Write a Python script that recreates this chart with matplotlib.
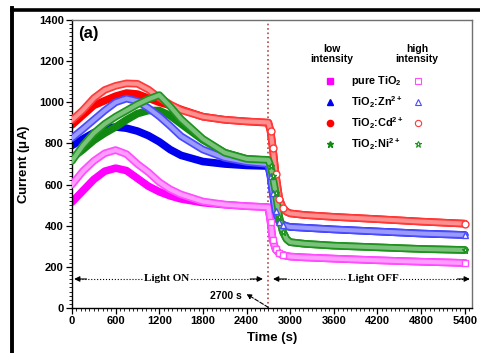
import numpy as np
import matplotlib.pyplot as plt
from matplotlib.lines import Line2D
from matplotlib.ticker import MultipleLocator

plt.rcParams['font.family'] = ['Liberation Sans', 'DejaVu Sans']
plt.rcParams['font.weight'] = 'bold'
plt.rcParams['mathtext.fontset'] = 'custom'
plt.rcParams['mathtext.bf'] = 'Liberation Sans:bold'
plt.rcParams['mathtext.rm'] = 'Liberation Sans:bold'
plt.rcParams['mathtext.default'] = 'bf'

# light ON part (s)
t_on = [0, 150, 300, 450, 600, 750, 900, 1050, 1200, 1350, 1500, 1800, 2100, 2400, 2700]
# light OFF part (s)
t_off = [2700, 2730, 2760, 2800, 2850, 2900, 2950, 3000, 3200, 3600, 4200, 4800, 5400]

pure_low = [515, 570, 625, 665, 680, 668, 630, 592, 565, 545, 530, 512, 502, 495, 490]
pure_high = [600, 665, 715, 752, 768, 748, 700, 660, 612, 577, 552, 518, 503, 495, 490]
zn_low = [790, 822, 852, 872, 880, 874, 860, 838, 808, 770, 742, 712, 700, 693, 690]
zn_high = [826, 870, 915, 960, 1000, 1018, 1005, 972, 932, 885, 835, 770, 730, 710, 700]
cd_low = [890, 938, 985, 1008, 1030, 1045, 1040, 1020, 1000, 985, 965, 930, 915, 907, 900]
cd_high = [914, 962, 1020, 1060, 1080, 1092, 1090, 1062, 1022, 990, 962, 930, 915, 907, 902]
ni_low = [729, 770, 815, 850, 880, 915, 945, 960, 960, 935, 895, 817, 755, 725, 718]
ni_high = [715, 790, 850, 895, 930, 960, 990, 1015, 1035, 980, 918, 822, 755, 725, 720]

pure_off = [490, 420, 330, 285, 265, 258, 253, 250, 246, 240, 232, 225, 219]
zn_off = [700, 640, 560, 470, 420, 405, 398, 394, 390, 382, 372, 362, 355]
cd_off = [900, 860, 780, 650, 530, 485, 468, 460, 452, 443, 432, 420, 410]
ni_off = [720, 690, 640, 560, 440, 370, 335, 320, 312, 303, 295, 287, 282]

labels = ['pure TiO$_2$', 'TiO$_2$:Zn$^{2+}$', 'TiO$_2$:Cd$^{2+}$', 'TiO$_2$:Ni$^{2+}$']

fig = plt.figure(figsize=(4.8, 3.53), dpi=100)
ax = fig.add_axes([0.15, 0.1275, 0.8333, 0.8158])

series = [
    (pure_low, pure_high, pure_off, '#ff00ff', '#ff4dff', '#ff9cff', 's'),
    (zn_low, zn_high, zn_off, '#0000ee', '#4a4aff', '#9a9aff', '^'),
    (cd_low, cd_high, cd_off, '#ff0000', '#ff3838', '#ff9090', 'o'),
    (ni_low, ni_high, ni_off, '#118811', '#1f931f', '#7cc27c', '*'),
]

tt = t_on + t_off[1:]
for low, high, off, c, c2, tint, m in series:
    ax.plot(tt, low + off[1:], c=c, lw=5.5, solid_capstyle='round', zorder=2)
for low, high, off, c, c2, tint, m in series:
    ax.plot(tt, high + off[1:], c=c2, lw=5.5, solid_capstyle='round', zorder=3)
    ax.plot(tt, high + off[1:], c=tint, lw=3.0, zorder=3)
    # markers along the fast drop
    ax.plot(t_off[1:6], off[1:6], m, ms=5, mfc='white', mec=c2, mew=1, zorder=4)
    ax.plot(t_off[-1], off[-1], m, ms=5, mfc='white', mec=c2, mew=1, zorder=4)

ax.axvline(2700, color='#b04848', ls=':', lw=1.2, zorder=1)

# Light ON / OFF arrows
ya = 141
ax.plot([60, 2600], [ya, ya], 'k:', lw=0.8)
ax.plot([2800, 5440], [ya, ya], 'k:', lw=0.8)
ap = dict(arrowstyle='-|>', color='k', lw=0.8, mutation_scale=8, shrinkA=0, shrinkB=0)
ax.annotate('', xy=(30, ya), xytext=(200, ya), arrowprops=ap)
ax.annotate('', xy=(2625, ya), xytext=(2450, ya), arrowprops=ap)
ax.annotate('', xy=(2765, ya), xytext=(2950, ya), arrowprops=ap)
ax.annotate('', xy=(5470, ya), xytext=(5300, ya), arrowprops=ap)
ax.text(1306, ya, 'Light ON', family='Liberation Serif', fontsize=8, weight='bold',
        ha='center', va='center', bbox=dict(fc='white', ec='none', pad=0.5))
ax.text(4140, ya, 'Light OFF', family='Liberation Serif', fontsize=8, weight='bold',
        ha='center', va='center', bbox=dict(fc='white', ec='none', pad=0.5))

ax.text(2110, 58, '2700 s', fontsize=7.5, ha='center', va='center')
ax.annotate('', xy=(2400, 68), xytext=(2700, 3),
            arrowprops=dict(arrowstyle='-|>', color='k', lw=0.8, ls='--',
                            mutation_scale=7, shrinkA=0, shrinkB=0))

ax.text(85, 1370, '(a)', fontsize=12, ha='left', va='top')

# legend drawn by hand
ax.text(0.65, 0.882, 'low\nintensity', transform=ax.transAxes, fontsize=7.5,
        ha='center', va='center', linespacing=1.1)
ax.text(0.8625, 0.882, 'high\nintensity', transform=ax.transAxes, fontsize=7.5,
        ha='center', va='center', linespacing=1.1)
rows = [0.788, 0.715, 0.642, 0.569]
for (low, high, off, c, c2, tint, m), lab, yr in zip(series, labels, rows):
    ax.plot(0.645, yr, m, transform=ax.transAxes, ms=4.5, c=c)
    ax.plot(0.865, yr, m, transform=ax.transAxes, ms=4.5, mfc='white', mec=c2, mew=0.8)
    ax.text(0.6975, yr, lab, transform=ax.transAxes, fontsize=7.8, ha='left', va='center')

ax.set_xlim(0, 5500)
ax.set_ylim(0, 1400)
ax.set_xticks(np.arange(0, 5401, 600))
ax.set_yticks(np.arange(0, 1401, 200))
ax.xaxis.set_minor_locator(MultipleLocator(60))
ax.yaxis.set_minor_locator(MultipleLocator(20))
ax.tick_params(which='major', direction='out', length=4, width=0.9, labelsize=8, pad=2)
ax.tick_params(which='minor', direction='out', length=2.2, width=0.6)
for lab in ax.get_xticklabels() + ax.get_yticklabels():
    lab.set_fontweight('bold')
for s in ['top', 'right']:
    ax.spines[s].set_color('#707070')
for s in ax.spines.values():
    s.set_linewidth(1.0)

ax.set_xlabel('Time (s)', fontsize=9.5, weight='bold', labelpad=4)
ax.set_ylabel('Current ($\\mu$A)', fontsize=9.5, weight='bold', labelpad=5)

# black frame of the scan
fig.add_artist(Line2D([0.025, 1.0], [0.973, 0.973], color='k', lw=2.6, transform=fig.transFigure))
fig.add_artist(Line2D([0.025, 0.025], [0.0, 0.977], color='k', lw=2.8, transform=fig.transFigure))

fig.savefig('out.png', dpi=100)
